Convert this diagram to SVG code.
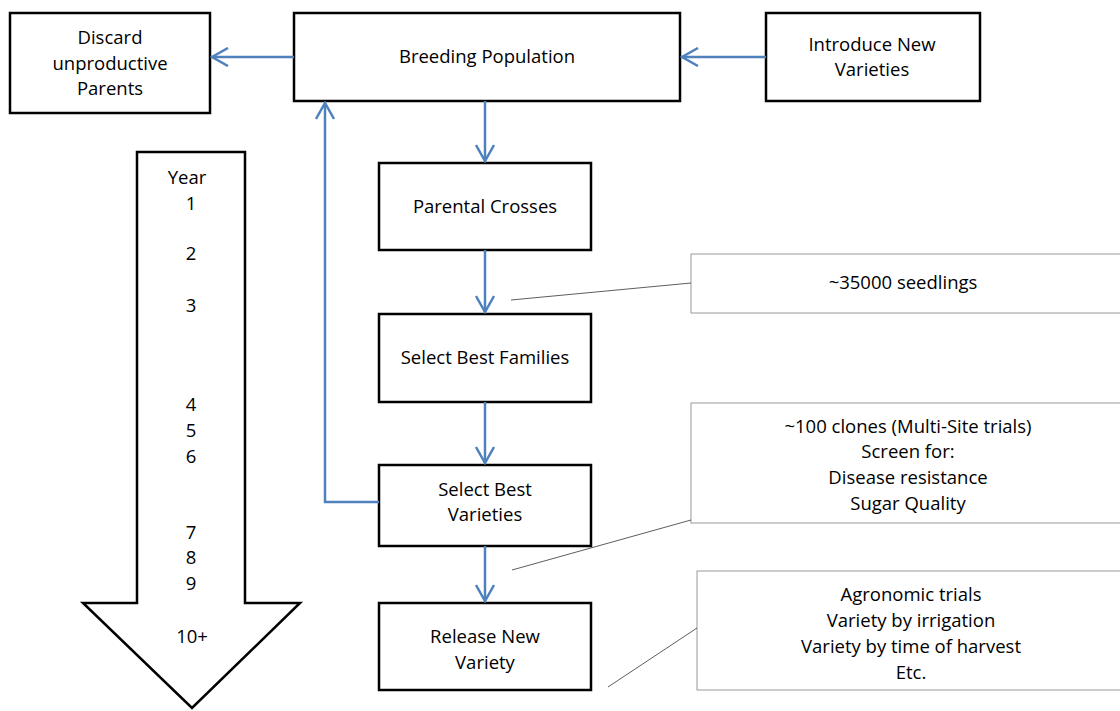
<svg xmlns="http://www.w3.org/2000/svg" width="1120" height="711" viewBox="0 0 1120 711">
<style>
.box{fill:#fff;stroke:#000;stroke-width:2.5}
.call{fill:#fff;stroke:#999;stroke-width:1}
.lead{stroke:#333;stroke-width:0.8;fill:none}
.conn{stroke:#4F81BD;stroke-width:2.5;fill:none}
text{font-family:"Open Sans","Liberation Sans",sans-serif;font-size:18.5px;fill:#000;text-anchor:middle}
</style>
<defs>
<marker id="ah" viewBox="0 0 20 20" refX="18" refY="10" markerWidth="20" markerHeight="20" markerUnits="userSpaceOnUse" orient="auto">
<path d="M2,1 L18,10 L2,19" fill="none" stroke="#4F81BD" stroke-width="2.5"/>
</marker>
</defs>
<g id="year-arrow">
<path d="M137,152 L245,152 L245,603 L300,603 L192,708 L83,603 L137,603 Z" fill="#fff" stroke="#000" stroke-width="2.5"/>
<text x="187" y="184">Year</text>
<text x="191" y="210">1</text>
<text x="191" y="260">2</text>
<text x="191" y="312">3</text>
<text x="191" y="411">4</text>
<text x="191" y="437">5</text>
<text x="191" y="463">6</text>
<text x="191" y="539">7</text>
<text x="191" y="564">8</text>
<text x="191" y="590">9</text>
<text x="192" y="643">10+</text>
</g>
<g id="discard">
<rect class="box" x="10" y="13" width="200" height="100"/>
<text x="110" y="44">Discard</text>
<text x="110" y="70">unproductive</text>
<text x="110" y="95">Parents</text>
</g>
<g id="breeding">
<rect class="box" x="294" y="13" width="386" height="88"/>
<text x="487" y="63">Breeding Population</text>
</g>
<g id="introduce">
<rect class="box" x="766" y="13" width="214" height="88"/>
<text x="872" y="51">Introduce New</text>
<text x="872" y="76">Varieties</text>
</g>
<g id="parental">
<rect class="box" x="379" y="163" width="212" height="87"/>
<text x="485" y="213">Parental Crosses</text>
</g>
<g id="families">
<rect class="box" x="379" y="314" width="212" height="88"/>
<text x="485" y="364">Select Best Families</text>
</g>
<g id="varieties">
<rect class="box" x="379" y="465" width="212" height="81"/>
<text x="485" y="496">Select Best</text>
<text x="485" y="521">Varieties</text>
</g>
<g id="release">
<rect class="box" x="379" y="603" width="212" height="87"/>
<text x="485" y="643">Release New</text>
<text x="485" y="669">Variety</text>
</g>
<g id="callout-seedlings">
<rect class="call" x="691" y="254" width="440" height="59"/>
<text x="903" y="289">~35000 seedlings</text>
</g>
<g id="callout-clones">
<rect class="call" x="691" y="403" width="440" height="120"/>
<text x="908" y="433">~100 clones (Multi-Site trials)</text>
<text x="908" y="458">Screen for:</text>
<text x="908" y="484">Disease resistance</text>
<text x="908" y="510">Sugar Quality</text>
</g>
<g id="callout-agronomic">
<rect class="call" x="697" y="571" width="440" height="119"/>
<text x="911" y="601">Agronomic trials</text>
<text x="911" y="627">Variety by irrigation</text>
<text x="911" y="653">Variety by time of harvest</text>
<text x="911" y="679">Etc.</text>
</g>
<g id="connectors">
<line class="conn" x1="294" y1="57" x2="212" y2="57" marker-end="url(#ah)"/>
<line class="conn" x1="766" y1="57" x2="682" y2="57" marker-end="url(#ah)"/>
<line class="conn" x1="485" y1="101" x2="485" y2="161" marker-end="url(#ah)"/>
<line class="conn" x1="485" y1="250" x2="485" y2="312" marker-end="url(#ah)"/>
<line class="conn" x1="485" y1="402" x2="485" y2="463" marker-end="url(#ah)"/>
<line class="conn" x1="485" y1="546" x2="485" y2="601" marker-end="url(#ah)"/>
<polyline class="conn" points="379,502 325,502 325,103" marker-end="url(#ah)"/>
<line class="lead" x1="691" y1="283" x2="511" y2="300"/>
<line class="lead" x1="691" y1="520" x2="512" y2="570"/>
<line class="lead" x1="697" y1="628" x2="608" y2="687"/>
</g>
</svg>
